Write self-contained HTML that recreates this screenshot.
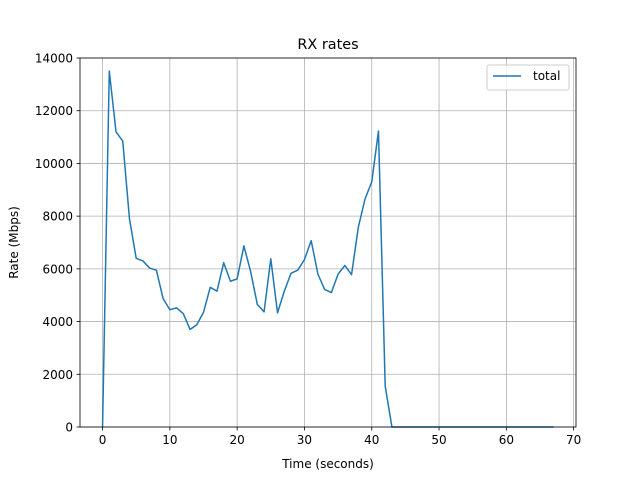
<!DOCTYPE html>
<html><head><meta charset="utf-8"><style>body{margin:0;background:#fff}svg text{font-family:"DejaVu Sans","Liberation Sans",sans-serif;fill:#000}</style></head>
<body>
<svg id="chart" width="640" height="480" xmlns="http://www.w3.org/2000/svg">
<rect width="640" height="480" fill="#fff"/>
<g id="grid"></g>
<g id="axes"></g>
<path id="line" fill="none" stroke="#1f77b4" stroke-width="1.5" stroke-linejoin="round"/>
<rect x="80" y="58" width="496" height="369" fill="none" stroke="#000" stroke-width="0.8"/>
<text x="328" y="49" font-size="14.4" text-anchor="middle">RX rates</text>
<text x="328" y="468" font-size="12" text-anchor="middle">Time (seconds)</text>
<text transform="translate(18,242.5) rotate(-90)" font-size="12" text-anchor="middle">Rate (Mbps)</text>
<g>
<rect x="487" y="65" width="82" height="25" fill="#fff" fill-opacity="0.8" stroke="#ccc" rx="2"/>
<line x1="493" y1="76" x2="521" y2="76" stroke="#1f77b4" stroke-width="1.5"/>
<text x="533" y="80" font-size="12">total</text>
</g>
</svg>
<script>
const times=[];for(let i=0;i<=67;i++)times.push(i);
const rates=[0,13500,11200,10850,7900,6400,6300,6030,5950,4870,4450,4520,4300,3700,3880,4350,5300,5150,6230,5530,5620,6870,5900,4650,4370,6380,4330,5150,5830,5950,6350,7070,5800,5220,5100,5800,6130,5780,7570,8650,9300,11230,1550,0,0,0,0,0,0,0,0,0,0,0,0,0,0,0,0,0,0,0,0,0,0,0,0,0];
const xTicks=[0,10,20,30,40,50,60,70];
const yTicks=[0,2000,4000,6000,8000,10000,12000,14000];
const L=80,R=576,T=58,B=427,xmin=-3.35,xmax=70.35,ymin=0,ymax=14000;
const X=v=>L+(v-xmin)/(xmax-xmin)*(R-L);
const Y=v=>B-(v-ymin)/(ymax-ymin)*(B-T);
const ns="http://www.w3.org/2000/svg",g=document.getElementById('grid'),a=document.getElementById('axes');
function mk(t,at,p){const e=document.createElementNS(ns,t);for(const k in at)e.setAttribute(k,at[k]);p.appendChild(e);return e;}
xTicks.forEach(v=>{const x=X(v);
const gl=mk('line',{x1:x,x2:x,y1:T,y2:B,stroke:'#b0b0b0','stroke-width':0.8},g);

mk('line',{x1:x,x2:x,y1:B,y2:B+3.5,stroke:'#000','stroke-width':0.8},a);
const t=mk('text',{x:x,y:B+17,'font-size':12,'text-anchor':'middle'},a);t.textContent=v;
});
yTicks.forEach(v=>{const y=Y(v);
const gl=mk('line',{x1:L,x2:R,y1:y,y2:y,stroke:'#b0b0b0','stroke-width':0.8},g);

mk('line',{x1:L-3.5,x2:L,y1:y,y2:y,stroke:'#000','stroke-width':0.8},a);
const t=mk('text',{x:L-7,y:y+4.5,'font-size':12,'text-anchor':'end'},a);t.textContent=v;
});
document.getElementById('line').setAttribute('d',times.map((t,i)=>(i?'L':'M')+X(t).toFixed(2)+','+Y(rates[i]).toFixed(2)).join(''));
</script>
</body></html>
